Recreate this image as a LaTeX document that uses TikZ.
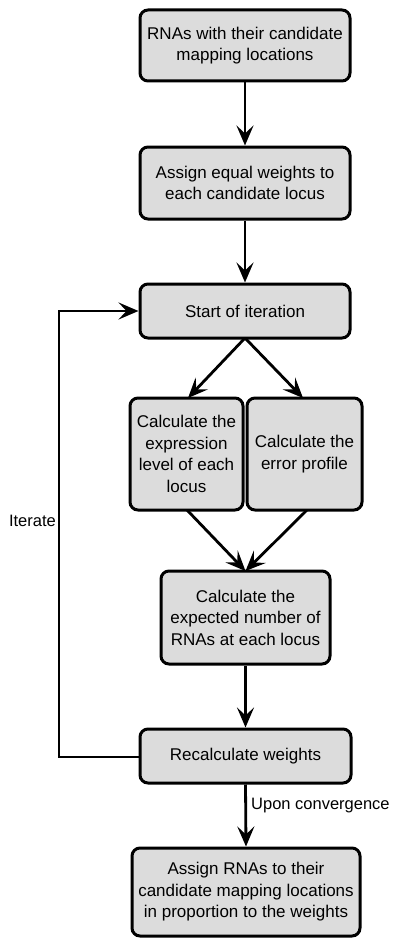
\documentclass[tikz,border=0pt]{standalone}
\usepackage{fontspec}
\setmainfont{Liberation Sans}
\usetikzlibrary{arrows.meta}
\begin{document}
\begin{tikzpicture}[x=1pt,y=-1pt,
  box/.style={draw=black, line width=3pt, rounded corners=8pt, fill=boxgray,
    align=center, inner sep=0pt, font=\fontsize{17}{21.5}\selectfont},
  conn/.style={line width=2.8pt, -{Stealth[length=20pt,width=17pt,inset=8pt]}},
  lbl/.style={font=\fontsize{16.5}{21.5}\selectfont, inner sep=0pt}]
\definecolor{boxgray}{HTML}{DCDCDC}
\useasboundingbox (0,0) rectangle (392,939);
\node[box, minimum width=210pt, minimum height=71pt] (b1) at (245,45.5) {RNAs with their candidate\\mapping locations};
\node[box, minimum width=210pt, minimum height=72pt] (b2) at (245,183) {Assign equal weights to\\each candidate locus};
\node[box, minimum width=210pt, minimum height=54pt] (st) at (245,311) {Start of iteration};
\node[box, minimum width=113pt, minimum height=112pt] (lf) at (186.5,454) {Calculate the\\expression\\level of each\\locus};
\node[box, minimum width=115pt, minimum height=112pt] (rt) at (304.5,454) {Calculate the\\error profile};
\node[box, minimum width=169pt, minimum height=93pt] (ex) at (245.5,617.5) {Calculate the\\expected number of\\RNAs at each locus};
\node[box, minimum width=211pt, minimum height=54pt] (rc) at (245.5,756) {Recalculate weights};
\node[box, minimum width=228pt, minimum height=88pt] (fn) at (246,892) {Assign RNAs to their\\candidate mapping locations\\in proportion to the weights};
\coordinate (lpb) at (59,757);
\coordinate (lpt) at (59,311);
\coordinate (sb) at (245,338);
\coordinate (lt) at (188,398);
\coordinate (rtt) at (303,398);
\coordinate (lb) at (187,510);
\coordinate (rb) at (307,510);
\coordinate (et) at (245.5,571);
\draw[conn] (b1.south) -- (b2.north);
\draw[conn] (b2.south) -- (st.north);
\draw[conn] (sb) -- (lt);
\draw[conn] (sb) -- (rtt);
\draw[conn] (lb) -- (et);
\draw[conn] (rb) -- (et);
\draw[conn] (ex.south) -- (rc.north);
\draw[conn] (rc.south) -- (fn.north);
\draw[conn, rounded corners=0pt] (rc.west |- lpb) -- (lpb) -- (lpt) -- (st.west);
\node[lbl, anchor=east] (it) at (56,521) {Iterate};
\node[lbl, anchor=west] (uc) at (251,806) {Upon convergence};
\end{tikzpicture}
\end{document}
